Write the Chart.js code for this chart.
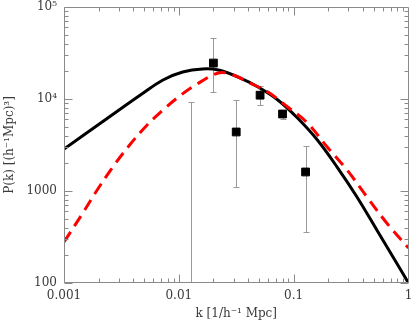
<!DOCTYPE html>
<html><head><meta charset="utf-8">
<script src="https://cdn.jsdelivr.net/npm/chart.js@4.4.1/dist/chart.umd.min.js"></script>
<style>html,body{margin:0;padding:0;background:#fff}#wrap{width:415px;height:323px}</style>
</head><body><div id="wrap"><canvas id="c" width="415" height="323"></canvas></div>
<script>
// Solid black model curve
const blackK = [0.001, 0.00221, 0.0049, 0.00728, 0.0108, 0.0161, 0.0221, 0.0329, 0.049, 0.0728, 0.108, 0.161, 0.239, 0.356, 0.530, 0.788, 1.0];
const blackP = [2860, 5770, 11620, 16100, 19640, 21200, 20650, 17300, 13500, 9750, 6210, 3580, 1820, 861, 377, 165, 100];
// Dashed red model curve
const redK = [0.001, 0.00146, 0.00192, 0.0027, 0.00379, 0.0052, 0.00728, 0.0102, 0.0140, 0.0221, 0.0298, 0.040, 0.0597, 0.0887, 0.132, 0.196, 0.292, 0.435, 0.646, 1.0];
const redP = [279, 577, 1000, 1870, 3240, 5090, 7590, 10800, 14200, 19200, 18240, 15300, 11900, 8190, 5480, 3010, 1690, 861, 449, 240];
// Data points with error bars
const dataK    = [0.0127, 0.020, 0.0316, 0.051, 0.080, 0.127];
const dataP    = [50,     24600, 4380, 11000, 6870, 1610];
const errHigh  = [9270,   46000, 9750, 13800, 7400, 3080];
const errLow   = [1,      11900, 1100, 8600,  6100, 358];
const xTicks = [0.001, 0.01, 0.1, 1];
const yTicks = [100, 1000, 10000, 100000];
const yTickLabels = {100:'100', 1000:'1000', 10000:'10\u2074', 100000:'10\u2075'};

const frameColor = '#8a8a8a';
const textColor = '#3a3a3a';
const fontFam = '"DejaVu Serif", serif';

const framePlugin = {
  id: 'frame',
  beforeDatasetsDraw(chart) {
    const {ctx, chartArea: a, scales: {x, y}} = chart;
    ctx.save();
    ctx.strokeStyle = '#9a9a9a';
    ctx.lineWidth = 1;
    ctx.beginPath();
    ctx.rect(a.left, a.top, a.right - a.left, a.bottom - a.top);
    ctx.clip();
    for (let i = 0; i < dataK.length; i++) {
      const px = Math.round(x.getPixelForValue(dataK[i])) + 0.5;
      const yh = y.getPixelForValue(errHigh[i]);
      const yl = y.getPixelForValue(errLow[i]);
      ctx.beginPath();
      ctx.moveTo(px, yh); ctx.lineTo(px, yl);
      ctx.moveTo(px - 3, Math.round(yh) + 0.5); ctx.lineTo(px + 3, Math.round(yh) + 0.5);
      ctx.moveTo(px - 3, Math.round(yl) + 0.5); ctx.lineTo(px + 3, Math.round(yl) + 0.5);
      ctx.stroke();
    }
    ctx.restore();
  },
  afterDatasetsDraw(chart) {
    const {ctx, chartArea: a, scales: {x, y}} = chart;
    ctx.save();
    ctx.strokeStyle = frameColor;
    ctx.lineWidth = 1;
    ctx.beginPath();
    const L = Math.round(a.left) + 0.5, R = Math.round(a.right) - 0.5;
    const T = Math.round(a.top) + 0.5, B = Math.round(a.bottom) - 0.5;
    ctx.rect(L, T, R - L, B - T);
    ctx.stroke();
    ctx.beginPath();
    for (let d = -3; d < 0; d++) {
      for (let m = 1; m <= 9; m++) {
        const v = m * Math.pow(10, d);
        const px = Math.round(x.getPixelForValue(v)) + 0.5;
        const len = m === 1 ? 8 : 4;
        ctx.moveTo(px, B); ctx.lineTo(px, B - len);
        ctx.moveTo(px, T); ctx.lineTo(px, T + len);
      }
    }
    for (let d = 2; d < 5; d++) {
      for (let m = 1; m <= 9; m++) {
        const v = m * Math.pow(10, d);
        const py = Math.round(y.getPixelForValue(v)) + 0.5;
        const len = m === 1 ? 8 : 4;
        ctx.moveTo(L, py); ctx.lineTo(L + len, py);
        ctx.moveTo(R, py); ctx.lineTo(R - len, py);
      }
    }
    ctx.stroke();
    ctx.restore();
  }
};

new Chart(document.getElementById('c'), {
  type: 'scatter',
  data: {
    datasets: [
      { data: redK.map((k, i) => ({x: k, y: redP[i]})), showLine: true, borderColor: '#ff0000',
        borderWidth: 3, borderDash: [12, 7], pointRadius: 0, tension: 0.35 },
      { data: blackK.map((k, i) => ({x: k, y: blackP[i]})), showLine: true, borderColor: '#000000',
        borderWidth: 3, pointRadius: 0, tension: 0.35 },
      { data: dataK.map((k, i) => ({x: k, y: dataP[i]})), showLine: false, pointStyle: 'rect',
        pointRadius: 5.5, backgroundColor: '#000', borderColor: '#000', borderWidth: 1 }
    ]
  },
  options: {
    responsive: false, animation: false, devicePixelRatio: 1,
    layout: { padding: { top: 7, right: 3, left: 0, bottom: 0 } },
    plugins: { legend: { display: false }, tooltip: { enabled: false } },
    scales: {
      x: {
        type: 'logarithmic', min: 0.001, max: 1,
        afterBuildTicks: s => { s.ticks = xTicks.map(v => ({value: v})); },
        afterFit: s => { s.height = 40; s.paddingLeft = 0; s.paddingRight = 0; },
        grid: { display: false, drawTicks: false },
        border: { display: false },
        ticks: { autoSkip: false, maxRotation: 0, padding: 6, color: textColor,
          font: { family: fontFam, size: 12 }, callback: v => String(v) },
        title: { display: true, text: 'k [1/h\u207B\u00B9 Mpc]', color: textColor,
          font: { family: fontFam, size: 12 }, padding: { top: 0, bottom: 2 } }
      },
      y: {
        type: 'logarithmic', min: 100, max: 100000,
        afterBuildTicks: s => { s.ticks = yTicks.map(v => ({value: v})); },
        afterFit: s => { s.width = 64; s.paddingTop = 0; s.paddingBottom = 0; },
        grid: { display: false, drawTicks: false },
        border: { display: false },
        ticks: { autoSkip: false, padding: 7, color: textColor,
          font: { family: fontFam, size: 12 }, callback: v => yTickLabels[v] || '' },
        title: { display: true, text: 'P(k) [(h\u207B\u00B9Mpc)\u00B3]', color: textColor,
          font: { family: fontFam, size: 12 }, padding: { top: 3, bottom: 0 } }
      }
    }
  },
  plugins: [framePlugin]
});
</script></body></html>
